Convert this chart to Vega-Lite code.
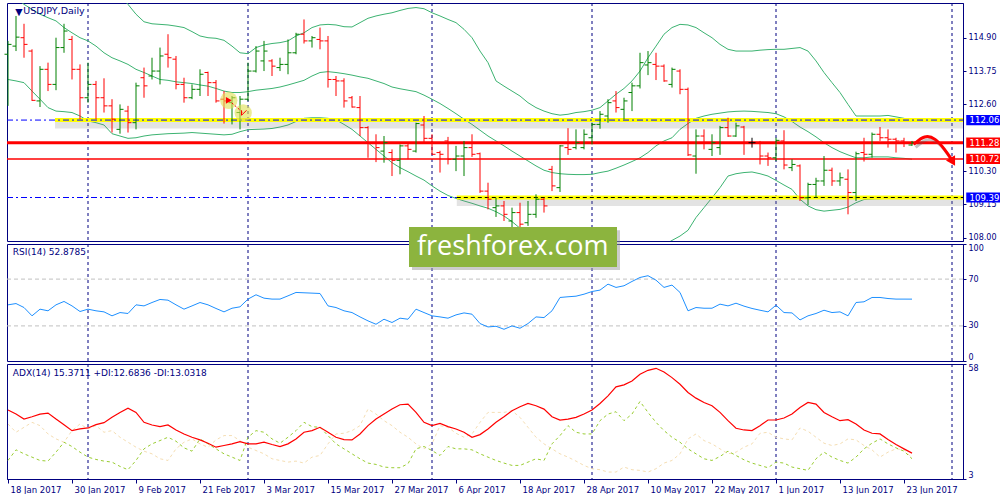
{
"$schema": "https://vega.github.io/schema/vega-lite/v6.json",
"background": "white",
"padding": {"left": 2, "top": 2, "right": 0, "bottom": 0},
"spacing": 3,
"bounds": "flush",
"config": {
 "view": {"stroke": "#000080", "strokeWidth": 1},
 "font": "DejaVu Sans",
 "axis": {"grid": false, "domainColor": "#000080", "tickColor": "#000080", "labelColor": "#000080", "labelFont": "DejaVu Sans", "labelFontSize": 8, "tickSize": 3, "labelPadding": 2}
},
"datasets": {
 "seps": [{"i": 10}, {"i": 30}, {"i": 53}, {"i": 73}, {"i": 96}, {"i": 118}],
 "bars": [
{"i":0,"o":114.33,"h":114.79,"l":112.55,"c":114.67,"bu":119.5,"bm":116.51,"bl":113.46,"rsi":48,"adx":35.96,"pdi":11.87,"mdi":29.31},
{"i":1,"o":114.61,"h":115.65,"l":114.44,"c":114.92,"bu":119.3,"bm":116.28,"bl":113.41,"rsi":49.1,"adx":34.06,"pdi":16.95,"mdi":25.35},
{"i":2,"o":114.90,"h":115.38,"l":114.21,"c":114.67,"bu":119.0,"bm":116.05,"bl":113.35,"rsi":45.7,"adx":31.68,"pdi":15.04,"mdi":27.72},
{"i":3,"o":114.44,"h":114.50,"l":112.72,"c":112.74,"bu":118.9,"bm":115.88,"bl":113.06,"rsi":38.6,"adx":32.79,"pdi":13.46,"mdi":30.1},
{"i":4,"o":112.72,"h":113.92,"l":112.51,"c":113.81,"bu":118.8,"bm":115.71,"bl":112.78,"rsi":44.3,"adx":34.06,"pdi":11.87,"mdi":28.52},
{"i":5,"o":113.81,"h":114.04,"l":113.06,"c":113.29,"bu":118.7,"bm":115.59,"bl":112.49,"rsi":42.9,"adx":34.54,"pdi":11.56,"mdi":24.55},
{"i":6,"o":113.29,"h":114.90,"l":113.09,"c":114.56,"bu":118.5,"bm":115.48,"bl":112.37,"rsi":48,"adx":31.68,"pdi":15.84,"mdi":22.18},
{"i":7,"o":114.56,"h":115.38,"l":114.38,"c":115.13,"bu":118.2,"bm":115.25,"bl":112.35,"rsi":50.9,"adx":28.99,"pdi":20.59,"mdi":20.59},
{"i":8,"o":114.84,"h":114.96,"l":113.46,"c":113.81,"bu":117.9,"bm":115.07,"bl":112.32,"rsi":47.1,"adx":26.14,"pdi":18.53,"mdi":26.14},
{"i":9,"o":113.81,"h":113.98,"l":112.09,"c":112.83,"bu":117.7,"bm":114.90,"bl":112.20,"rsi":42.3,"adx":26.93,"pdi":15.84,"mdi":29.31},
{"i":10,"o":112.83,"h":114.04,"l":112.66,"c":113.29,"bu":117.5,"bm":114.79,"bl":112.03,"rsi":44.3,"adx":27.41,"pdi":13.46,"mdi":26.93},
{"i":11,"o":113.29,"h":113.41,"l":112.09,"c":112.83,"bu":117.2,"bm":114.61,"bl":111.97,"rsi":42.9,"adx":28.99,"pdi":12.35,"mdi":28.52},
{"i":12,"o":112.83,"h":113.50,"l":112.32,"c":112.55,"bu":116.9,"bm":114.38,"bl":111.89,"rsi":42,"adx":29.94,"pdi":11.56,"mdi":25.35},
{"i":13,"o":112.55,"h":112.78,"l":111.63,"c":112.09,"bu":116.6,"bm":114.21,"bl":111.59,"rsi":38.6,"adx":32.48,"pdi":11.08,"mdi":26.14},
{"i":14,"o":111.74,"h":112.60,"l":111.59,"c":112.43,"bu":116.35,"bm":114.10,"bl":111.51,"rsi":41.4,"adx":34.85,"pdi":9.02,"mdi":22.97},
{"i":15,"o":112.37,"h":112.55,"l":111.63,"c":111.97,"bu":116.05,"bm":113.98,"bl":111.43,"rsi":40.6,"adx":36.91,"pdi":7.44,"mdi":20.59},
{"i":16,"o":111.97,"h":113.35,"l":111.74,"c":113.24,"bu":115.71,"bm":113.81,"bl":111.45,"rsi":48,"adx":34.85,"pdi":11.87,"mdi":18.21},
{"i":17,"o":113.52,"h":113.87,"l":112.83,"c":113.24,"bu":115.45,"bm":113.70,"bl":111.51,"rsi":47.1,"adx":30.1,"pdi":17.42,"mdi":16.31},
{"i":18,"o":113.58,"h":114.21,"l":113.46,"c":113.75,"bu":115.38,"bm":113.58,"bl":111.55,"rsi":50,"adx":28.83,"pdi":19.8,"mdi":15.04},
{"i":19,"o":113.75,"h":114.56,"l":113.29,"c":114.27,"bu":115.36,"bm":113.46,"bl":111.57,"rsi":52.6,"adx":28.04,"pdi":21.38,"mdi":12.67},
{"i":20,"o":114.33,"h":115.02,"l":113.87,"c":114.21,"bu":115.34,"bm":113.43,"bl":111.59,"rsi":52,"adx":28.83,"pdi":22.97,"mdi":11.87},
{"i":21,"o":114.16,"h":114.27,"l":113.12,"c":113.29,"bu":115.30,"bm":113.38,"bl":111.60,"rsi":48,"adx":26.45,"pdi":21.07,"mdi":17.42},
{"i":22,"o":113.29,"h":113.52,"l":112.66,"c":112.83,"bu":115.25,"bm":113.35,"bl":111.61,"rsi":44.3,"adx":24.55,"pdi":17.9,"mdi":20.59},
{"i":23,"o":112.83,"h":113.29,"l":112.78,"c":113.12,"bu":115.11,"bm":113.32,"bl":111.63,"rsi":47.1,"adx":22.97,"pdi":16.31,"mdi":22.18},
{"i":24,"o":113.12,"h":113.81,"l":112.89,"c":113.64,"bu":114.96,"bm":113.27,"bl":111.61,"rsi":50,"adx":21.7,"pdi":22.18,"mdi":19.8},
{"i":25,"o":113.70,"h":113.73,"l":112.89,"c":113.35,"bu":114.90,"bm":113.23,"bl":111.59,"rsi":48,"adx":20.12,"pdi":19.8,"mdi":18.21},
{"i":26,"o":113.35,"h":113.44,"l":112.66,"c":112.72,"bu":114.88,"bm":113.15,"bl":111.57,"rsi":44.9,"adx":18.21,"pdi":17.42,"mdi":21.7},
{"i":27,"o":112.78,"h":113.06,"l":111.94,"c":112.72,"bu":114.81,"bm":113.06,"bl":111.55,"rsi":42,"adx":19.01,"pdi":15.04,"mdi":23.76},
{"i":28,"o":112.66,"h":112.89,"l":111.91,"c":112.83,"bu":114.61,"bm":113.01,"bl":111.57,"rsi":45.1,"adx":19.8,"pdi":13.46,"mdi":23.76},
{"i":29,"o":112.32,"h":112.89,"l":111.74,"c":112.78,"bu":114.38,"bm":113.01,"bl":111.66,"rsi":46.3,"adx":20.91,"pdi":11.87,"mdi":21.38},
{"i":30,"o":112.78,"h":114.04,"l":112.72,"c":113.75,"bu":114.35,"bm":113.04,"bl":111.73,"rsi":52.9,"adx":19.8,"pdi":22.97,"mdi":18.21},
{"i":31,"o":113.75,"h":114.61,"l":113.70,"c":114.44,"bu":114.56,"bm":113.09,"bl":111.74,"rsi":56.6,"adx":19.8,"pdi":26.14,"mdi":16.63},
{"i":32,"o":114.10,"h":114.79,"l":113.75,"c":114.44,"bu":114.65,"bm":113.12,"bl":111.75,"rsi":53.7,"adx":20.59,"pdi":25.35,"mdi":15.04},
{"i":33,"o":114.10,"h":114.16,"l":113.58,"c":113.92,"bu":114.70,"bm":113.15,"bl":111.77,"rsi":52.9,"adx":19.48,"pdi":22.18,"mdi":12.67},
{"i":34,"o":113.87,"h":114.21,"l":113.75,"c":113.98,"bu":114.73,"bm":113.20,"bl":111.82,"rsi":52.9,"adx":18.53,"pdi":20.12,"mdi":11.87},
{"i":35,"o":113.98,"h":114.84,"l":113.64,"c":114.38,"bu":114.79,"bm":113.27,"bl":111.89,"rsi":55.7,"adx":19.8,"pdi":22.97,"mdi":11.08},
{"i":36,"o":114.38,"h":115.07,"l":114.33,"c":115.02,"bu":114.96,"bm":113.35,"bl":112.01,"rsi":58.6,"adx":22.18,"pdi":26.14,"mdi":11.56},
{"i":37,"o":115.02,"h":115.53,"l":114.70,"c":114.79,"bu":115.07,"bm":113.43,"bl":112.12,"rsi":58.3,"adx":25.35,"pdi":30.1,"mdi":10.61},
{"i":38,"o":114.79,"h":114.96,"l":114.56,"c":114.90,"bu":115.25,"bm":113.58,"bl":112.14,"rsi":58,"adx":26.14,"pdi":28.04,"mdi":13.46},
{"i":39,"o":114.84,"h":115.25,"l":114.50,"c":114.79,"bu":115.34,"bm":113.70,"bl":112.14,"rsi":57.7,"adx":27.72,"pdi":27.72,"mdi":14.25},
{"i":40,"o":114.79,"h":114.96,"l":113.18,"c":113.46,"bu":115.36,"bm":113.73,"bl":112.12,"rsi":47.1,"adx":25.35,"pdi":23.76,"mdi":19.8},
{"i":41,"o":113.46,"h":113.58,"l":112.89,"c":113.41,"bu":115.34,"bm":113.70,"bl":112.07,"rsi":45.7,"adx":22.97,"pdi":19.8,"mdi":24.55},
{"i":42,"o":113.41,"h":113.50,"l":112.49,"c":112.72,"bu":115.28,"bm":113.66,"bl":111.91,"rsi":42.9,"adx":21.86,"pdi":17.42,"mdi":24.87},
{"i":43,"o":112.83,"h":112.89,"l":112.49,"c":112.51,"bu":115.27,"bm":113.61,"bl":111.74,"rsi":41.4,"adx":21.7,"pdi":15.04,"mdi":26.14},
{"i":44,"o":112.49,"h":112.89,"l":111.51,"c":111.80,"bu":115.42,"bm":113.55,"bl":111.51,"rsi":37.7,"adx":24.55,"pdi":12.67,"mdi":28.52},
{"i":45,"o":111.80,"h":111.85,"l":110.76,"c":111.28,"bu":115.57,"bm":113.50,"bl":111.28,"rsi":34.3,"adx":28.52,"pdi":10.61,"mdi":36.44},
{"i":46,"o":111.28,"h":111.57,"l":110.61,"c":111.11,"bu":115.65,"bm":113.41,"bl":111.05,"rsi":31.4,"adx":31.68,"pdi":9.97,"mdi":34.06},
{"i":47,"o":110.99,"h":111.51,"l":110.59,"c":111.28,"bu":115.71,"bm":113.32,"bl":110.82,"rsi":35.7,"adx":34.06,"pdi":8.71,"mdi":30.89},
{"i":48,"o":110.94,"h":111.05,"l":110.13,"c":110.67,"bu":115.76,"bm":113.20,"bl":110.59,"rsi":32.9,"adx":36.44,"pdi":8.39,"mdi":28.52},
{"i":49,"o":110.67,"h":111.22,"l":110.19,"c":111.17,"bu":115.84,"bm":113.14,"bl":110.42,"rsi":36.6,"adx":38.5,"pdi":8.39,"mdi":25.35},
{"i":50,"o":111.17,"h":111.28,"l":110.71,"c":111.05,"bu":115.91,"bm":113.09,"bl":110.28,"rsi":35.7,"adx":38.82,"pdi":10.29,"mdi":22.97},
{"i":51,"o":110.99,"h":111.97,"l":110.94,"c":111.94,"bu":115.94,"bm":113.04,"bl":110.13,"rsi":44.3,"adx":34.85,"pdi":17.42,"mdi":19.8},
{"i":52,"o":111.89,"h":112.20,"l":111.25,"c":111.43,"bu":115.90,"bm":112.92,"bl":109.99,"rsi":41.4,"adx":30.1,"pdi":18.53,"mdi":17.42},
{"i":53,"o":111.43,"h":111.57,"l":110.86,"c":110.88,"bu":115.76,"bm":112.78,"bl":109.79,"rsi":38.6,"adx":28.52,"pdi":16.63,"mdi":19.8},
{"i":54,"o":110.94,"h":111.00,"l":110.25,"c":110.88,"bu":115.65,"bm":112.63,"bl":109.61,"rsi":37.7,"adx":29.62,"pdi":14.25,"mdi":28.52},
{"i":55,"o":111.34,"h":111.48,"l":110.53,"c":110.71,"bu":115.53,"bm":112.46,"bl":109.46,"rsi":36.6,"adx":28.04,"pdi":18.53,"mdi":27.72},
{"i":56,"o":110.71,"h":111.17,"l":110.30,"c":110.82,"bu":115.42,"bm":112.28,"bl":109.36,"rsi":39.4,"adx":26.93,"pdi":17.42,"mdi":24.87},
{"i":57,"o":110.82,"h":111.34,"l":110.13,"c":111.11,"bu":115.19,"bm":112.09,"bl":109.27,"rsi":41.1,"adx":25.35,"pdi":17.42,"mdi":22.97},
{"i":58,"o":111.11,"h":111.57,"l":110.79,"c":110.88,"bu":114.90,"bm":111.91,"bl":109.19,"rsi":40,"adx":22.97,"pdi":16.95,"mdi":24.55},
{"i":59,"o":110.90,"h":110.94,"l":109.55,"c":109.61,"bu":114.44,"bm":111.71,"bl":109.10,"rsi":32,"adx":24.24,"pdi":15.04,"mdi":30.1},
{"i":60,"o":109.61,"h":109.90,"l":108.98,"c":109.33,"bu":114.04,"bm":111.51,"bl":109.02,"rsi":29.1,"adx":26.93,"pdi":13.46,"mdi":34.85},
{"i":61,"o":109.04,"h":109.38,"l":108.72,"c":109.10,"bu":113.41,"bm":111.34,"bl":108.90,"rsi":29.7,"adx":30.1,"pdi":11.87,"mdi":34.85},
{"i":62,"o":109.10,"h":109.27,"l":108.58,"c":108.81,"bu":113.23,"bm":111.17,"bl":108.75,"rsi":27.1,"adx":32.79,"pdi":10.61,"mdi":34.85},
{"i":63,"o":108.58,"h":109.04,"l":108.35,"c":108.87,"bu":113.06,"bm":110.99,"bl":108.56,"rsi":30,"adx":35.65,"pdi":9.5,"mdi":35.65},
{"i":64,"o":108.87,"h":109.21,"l":108.35,"c":108.47,"bu":112.89,"bm":110.82,"bl":108.33,"rsi":28,"adx":37.55,"pdi":9.5,"mdi":32.48},
{"i":65,"o":108.52,"h":109.27,"l":108.41,"c":108.81,"bu":112.66,"bm":110.65,"bl":108.10,"rsi":32,"adx":39.13,"pdi":11.08,"mdi":27.72},
{"i":66,"o":108.81,"h":109.50,"l":108.69,"c":109.33,"bu":112.49,"bm":110.48,"bl":107.87,"rsi":37.7,"adx":38.02,"pdi":12.67,"mdi":22.97},
{"i":67,"o":109.33,"h":109.38,"l":108.87,"c":109.10,"bu":112.37,"bm":110.33,"bl":107.80,"rsi":37.1,"adx":36.44,"pdi":11.87,"mdi":19.8},
{"i":68,"o":110.36,"h":110.48,"l":109.61,"c":109.79,"bu":112.28,"bm":110.25,"bl":107.75,"rsi":42.9,"adx":32.79,"pdi":19.8,"mdi":17.42},
{"i":69,"o":109.73,"h":111.20,"l":109.58,"c":111.17,"bu":112.23,"bm":110.21,"bl":107.70,"rsi":54.3,"adx":31.21,"pdi":23.76,"mdi":15.04},
{"i":70,"o":111.11,"h":111.78,"l":110.86,"c":111.05,"bu":112.26,"bm":110.19,"bl":107.65,"rsi":54.9,"adx":31.68,"pdi":28.52,"mdi":13.46},
{"i":71,"o":111.11,"h":111.74,"l":111.05,"c":111.28,"bu":112.32,"bm":110.18,"bl":107.60,"rsi":55.4,"adx":32.48,"pdi":25.35,"mdi":11.56},
{"i":72,"o":111.11,"h":111.74,"l":111.05,"c":111.57,"bu":112.35,"bm":110.18,"bl":107.55,"rsi":57.1,"adx":34.06,"pdi":24.55,"mdi":9.5},
{"i":73,"o":111.45,"h":111.97,"l":111.22,"c":111.91,"bu":112.40,"bm":110.19,"bl":107.50,"rsi":59.4,"adx":35.96,"pdi":24.55,"mdi":7.91},
{"i":74,"o":111.91,"h":112.37,"l":111.76,"c":112.26,"bu":112.49,"bm":110.25,"bl":107.45,"rsi":60.6,"adx":39.13,"pdi":30.89,"mdi":7.44},
{"i":75,"o":112.20,"h":112.78,"l":111.97,"c":112.66,"bu":112.72,"bm":110.30,"bl":107.45,"rsi":65.7,"adx":42.78,"pdi":34.06,"mdi":6.33},
{"i":76,"o":112.72,"h":113.06,"l":112.32,"c":112.49,"bu":112.95,"bm":110.40,"bl":107.45,"rsi":62.9,"adx":47.06,"pdi":35.17,"mdi":6.33},
{"i":77,"o":112.43,"h":112.83,"l":112.09,"c":112.72,"bu":113.15,"bm":110.51,"bl":107.45,"rsi":64.3,"adx":48.01,"pdi":30.89,"mdi":8.71},
{"i":78,"o":113.01,"h":113.35,"l":112.37,"c":113.24,"bu":113.41,"bm":110.63,"bl":107.50,"rsi":68,"adx":49.91,"pdi":34.06,"mdi":7.44},
{"i":79,"o":113.24,"h":114.38,"l":113.15,"c":114.04,"bu":113.75,"bm":110.76,"bl":107.55,"rsi":71.4,"adx":53.08,"pdi":40.08,"mdi":7.12},
{"i":80,"o":113.96,"h":114.44,"l":113.61,"c":114.04,"bu":114.21,"bm":110.94,"bl":107.60,"rsi":72.9,"adx":54.98,"pdi":34.85,"mdi":6.33},
{"i":81,"o":113.98,"h":114.38,"l":113.44,"c":113.92,"bu":114.61,"bm":111.17,"bl":107.65,"rsi":69.1,"adx":55.93,"pdi":30.1,"mdi":7.91},
{"i":82,"o":113.92,"h":113.98,"l":113.38,"c":113.41,"bu":115.02,"bm":111.34,"bl":107.75,"rsi":62.9,"adx":54.19,"pdi":26.14,"mdi":10.61},
{"i":83,"o":113.29,"h":113.87,"l":113.18,"c":113.81,"bu":115.25,"bm":111.45,"bl":107.91,"rsi":64.9,"adx":51.49,"pdi":22.97,"mdi":11.87},
{"i":84,"o":113.75,"h":113.81,"l":112.95,"c":113.12,"bu":115.36,"bm":111.74,"bl":108.06,"rsi":58.6,"adx":48.32,"pdi":20.59,"mdi":15.04},
{"i":85,"o":113.12,"h":113.18,"l":110.82,"c":110.86,"bu":115.34,"bm":111.94,"bl":108.26,"rsi":42.9,"adx":44.36,"pdi":17.42,"mdi":22.18},
{"i":86,"o":110.82,"h":111.74,"l":110.21,"c":111.51,"bu":115.25,"bm":112.12,"bl":108.70,"rsi":45.7,"adx":41.67,"pdi":15.04,"mdi":24.55},
{"i":87,"o":111.51,"h":111.74,"l":111.05,"c":111.28,"bu":115.07,"bm":112.20,"bl":109.04,"rsi":45.1,"adx":39.61,"pdi":12.67,"mdi":21.38},
{"i":88,"o":111.05,"h":111.57,"l":110.82,"c":111.28,"bu":114.90,"bm":112.26,"bl":109.38,"rsi":45.1,"adx":38.02,"pdi":11.87,"mdi":19.8},
{"i":89,"o":111.11,"h":111.86,"l":110.86,"c":111.80,"bu":114.67,"bm":112.30,"bl":109.73,"rsi":48.6,"adx":34.85,"pdi":13.78,"mdi":17.42},
{"i":90,"o":111.80,"h":112.14,"l":111.48,"c":111.51,"bu":114.50,"bm":112.34,"bl":110.13,"rsi":47.1,"adx":30.89,"pdi":16.31,"mdi":15.04},
{"i":91,"o":111.51,"h":111.97,"l":111.48,"c":111.86,"bu":114.44,"bm":112.36,"bl":110.21,"rsi":49.4,"adx":27.25,"pdi":14.25,"mdi":15.84},
{"i":92,"o":111.82,"h":111.86,"l":110.86,"c":111.28,"bu":114.44,"bm":112.37,"bl":110.25,"rsi":46.9,"adx":26.45,"pdi":12.19,"mdi":18.21},
{"i":93,"o":111.28,"h":111.45,"l":111.11,"c":111.28,"bu":114.44,"bm":112.36,"bl":110.27,"rsi":44.9,"adx":26.14,"pdi":10.61,"mdi":19.8},
{"i":94,"o":111.28,"h":111.34,"l":110.53,"c":110.82,"bu":114.47,"bm":112.34,"bl":110.21,"rsi":43.4,"adx":28.52,"pdi":9.5,"mdi":24.87},
{"i":95,"o":110.82,"h":110.94,"l":110.48,"c":110.76,"bu":114.49,"bm":112.32,"bl":110.13,"rsi":42,"adx":31.21,"pdi":8.39,"mdi":25.35},
{"i":96,"o":110.76,"h":111.45,"l":110.65,"c":111.36,"bu":114.50,"bm":112.28,"bl":109.98,"rsi":47.7,"adx":31.21,"pdi":11.08,"mdi":22.97},
{"i":97,"o":111.34,"h":111.71,"l":110.36,"c":110.51,"bu":114.50,"bm":112.17,"bl":109.82,"rsi":41.4,"adx":32.16,"pdi":10.61,"mdi":22.18},
{"i":98,"o":110.42,"h":110.71,"l":110.30,"c":110.53,"bu":114.53,"bm":112.01,"bl":109.67,"rsi":41.1,"adx":34.06,"pdi":8.71,"mdi":21.7},
{"i":99,"o":110.48,"h":110.53,"l":109.27,"c":109.38,"bu":114.56,"bm":111.82,"bl":109.33,"rsi":35.1,"adx":37.23,"pdi":7.91,"mdi":27.41},
{"i":100,"o":109.38,"h":109.90,"l":109.13,"c":109.84,"bu":114.44,"bm":111.66,"bl":109.10,"rsi":38.6,"adx":39.61,"pdi":7.12,"mdi":25.82},
{"i":101,"o":109.84,"h":110.07,"l":109.38,"c":109.96,"bu":114.10,"bm":111.48,"bl":108.97,"rsi":40.6,"adx":38.82,"pdi":12.67,"mdi":22.97},
{"i":102,"o":109.96,"h":110.82,"l":109.79,"c":110.33,"bu":113.70,"bm":111.28,"bl":108.92,"rsi":43.4,"adx":34.85,"pdi":15.84,"mdi":20.12},
{"i":103,"o":110.33,"h":110.42,"l":109.79,"c":109.96,"bu":113.35,"bm":111.11,"bl":108.95,"rsi":41.4,"adx":32.79,"pdi":13.46,"mdi":19.01},
{"i":104,"o":109.96,"h":110.25,"l":109.79,"c":110.07,"bu":113.01,"bm":110.97,"bl":108.98,"rsi":42,"adx":30.89,"pdi":11.87,"mdi":19.8},
{"i":105,"o":110.02,"h":110.36,"l":108.81,"c":109.56,"bu":112.60,"bm":110.86,"bl":109.06,"rsi":38.6,"adx":31.37,"pdi":10.61,"mdi":22.18},
{"i":106,"o":109.56,"h":110.97,"l":109.27,"c":110.90,"bu":112.20,"bm":110.76,"bl":109.21,"rsi":50,"adx":29.31,"pdi":13.46,"mdi":21.7},
{"i":107,"o":110.94,"h":111.45,"l":110.63,"c":110.88,"bu":112.20,"bm":110.76,"bl":109.32,"rsi":50.6,"adx":26.45,"pdi":17.42,"mdi":19.01},
{"i":108,"o":110.88,"h":111.63,"l":110.76,"c":111.57,"bu":112.20,"bm":110.79,"bl":109.34,"rsi":54.3,"adx":24.87,"pdi":20.12,"mdi":16.95},
{"i":109,"o":111.57,"h":111.82,"l":111.34,"c":111.45,"bu":112.20,"bm":110.79,"bl":109.35,"rsi":54.3,"adx":24.55,"pdi":22.18,"mdi":13.46},
{"i":110,"o":111.45,"h":111.74,"l":111.11,"c":111.40,"bu":112.22,"bm":110.79,"bl":109.36,"rsi":53.4,"adx":21.86,"pdi":19.8,"mdi":15.84},
{"i":111,"o":111.40,"h":111.45,"l":110.94,"c":111.34,"bu":112.17,"bm":110.76,"bl":109.38,"rsi":52.9,"adx":19.48,"pdi":17.9,"mdi":17.42},
{"i":112,"o":111.34,"h":111.45,"l":111.13,"c":111.28,"bu":112.12,"bm":110.74,"bl":109.41,"rsi":52.9,"adx":17.42,"pdi":16.31,"mdi":16.95},
{"i":113,"o":111.20,"h":111.34,"l":111.17,"c":111.28,"bu":112.05,"bm":110.71,"bl":109.41,"rsi":52.88,"adx":15.37,"pdi":12.68,"mdi":13.03}
 ]
},
"vconcat": [
 {
  "width": 956, "height": 238,
  "resolve": {"axis": {"x": "independent", "y": "independent"}},
  "layer": [
   {"data": {"name": "seps"}, "mark": {"type": "rule", "color": "#000080", "strokeDash": [3, 3], "strokeWidth": 1},
    "encoding": {"x": {"field": "i", "type": "quantitative", "scale": {"domain": [-0.125, 119.375], "nice": false, "zero": false}, "axis": null}}},
   {"data": {"name": "bars"}, "transform": [{"fold": ["bu", "bm", "bl"], "as": ["band", "val"]}],
    "mark": {"type": "line", "color": "#3cb371", "strokeWidth": 1, "clip": true},
    "encoding": {
     "x": {"field": "i", "type": "quantitative", "scale": {"domain": [-0.125, 119.375], "nice": false, "zero": false}, "axis": null},
     "y": {"field": "val", "type": "quantitative", "scale": {"domain": [107.89, 116.097], "nice": false, "zero": false},
           "axis": {"orient": "right", "title": null, "values": [108, 109.15, 110.3, 112.6, 113.75, 114.9], "format": ".2f"}},
     "detail": {"field": "band", "type": "nominal"}}},
   {"data": {"values": [{"p": 112.06, "a": 5.875, "b": 119.375}, {"p": 109.39, "a": 56.1, "b": 119.375}]},
    "mark": {"type": "rule", "color": "#808080", "opacity": 0.22, "strokeWidth": 7, "yOffset": 5},
    "encoding": {"x": {"field": "a", "type": "quantitative", "scale": {"domain": [-0.125, 119.375], "nice": false, "zero": false}, "axis": null}, "x2": {"field": "b"},
     "y": {"field": "p", "type": "quantitative", "scale": {"domain": [107.89, 116.097], "nice": false, "zero": false}, "axis": null}}},
   {"data": {"values": [{"p": 112.06, "a": 5.875, "b": 119.375}, {"p": 109.39, "a": 56.1, "b": 119.375}]},
    "mark": {"type": "rule", "color": "#ffff00", "strokeWidth": 4},
    "encoding": {"x": {"field": "a", "type": "quantitative", "scale": {"domain": [-0.125, 119.375], "nice": false, "zero": false}, "axis": null}, "x2": {"field": "b"},
     "y": {"field": "p", "type": "quantitative", "scale": {"domain": [107.89, 116.097], "nice": false, "zero": false}, "axis": null}}},
   {"data": {"values": [{"p": 112.06, "a": -0.125, "b": 119.375}, {"p": 109.39, "a": -0.125, "b": 56.1}]},
    "mark": {"type": "rule", "color": "#0000ff", "strokeWidth": 1, "strokeDash": [6, 3, 2, 3]},
    "encoding": {"x": {"field": "a", "type": "quantitative", "scale": {"domain": [-0.125, 119.375], "nice": false, "zero": false}, "axis": null}, "x2": {"field": "b"},
     "y": {"field": "p", "type": "quantitative", "scale": {"domain": [107.89, 116.097], "nice": false, "zero": false}, "axis": null}}},
   {"data": {"values": [{"p": 109.39, "a": 56.1, "b": 119.375}]},
    "mark": {"type": "rule", "color": "#000000", "strokeWidth": 1, "strokeDash": [4, 3]},
    "encoding": {"x": {"field": "a", "type": "quantitative", "scale": {"domain": [-0.125, 119.375], "nice": false, "zero": false}, "axis": null}, "x2": {"field": "b"},
     "y": {"field": "p", "type": "quantitative", "scale": {"domain": [107.89, 116.097], "nice": false, "zero": false}, "axis": null}}},
   {"data": {"values": [{"p": 111.28}]},
    "mark": {"type": "rule", "color": "#ff0000", "strokeWidth": 3},
    "encoding": {"y": {"field": "p", "type": "quantitative", "scale": {"domain": [107.89, 116.097], "nice": false, "zero": false}, "axis": null}}},
   {"data": {"values": [{"p": 110.72}]},
    "mark": {"type": "rule", "color": "#ff0000", "strokeWidth": 1.5},
    "encoding": {"y": {"field": "p", "type": "quantitative", "scale": {"domain": [107.89, 116.097], "nice": false, "zero": false}, "axis": null}}},
   {"data": {"name": "bars"}, "mark": {"type": "rule", "strokeWidth": 1},
    "encoding": {"x": {"field": "i", "type": "quantitative", "scale": {"domain": [-0.125, 119.375], "nice": false, "zero": false}, "axis": null},
     "y": {"field": "l", "type": "quantitative", "scale": {"domain": [107.89, 116.097], "nice": false, "zero": false}, "axis": null}, "y2": {"field": "h"},
     "color": {"condition": [{"test": "datum.c > datum.o", "value": "#008000"}, {"test": "datum.c < datum.o", "value": "#ff0000"}], "value": "#000000"}}},
   {"data": {"name": "bars"}, "mark": {"type": "point", "shape": "M-1,0L0,0", "filled": false, "size": 49, "strokeWidth": 1, "opacity": 1},
    "encoding": {"x": {"field": "i", "type": "quantitative", "scale": {"domain": [-0.125, 119.375], "nice": false, "zero": false}, "axis": null},
     "y": {"field": "o", "type": "quantitative", "scale": {"domain": [107.89, 116.097], "nice": false, "zero": false}, "axis": null},
     "color": {"condition": [{"test": "datum.c > datum.o", "value": "#008000"}, {"test": "datum.c < datum.o", "value": "#ff0000"}], "value": "#000000"}}},
   {"data": {"name": "bars"}, "mark": {"type": "point", "shape": "M0,0L1,0", "filled": false, "size": 49, "strokeWidth": 1, "opacity": 1},
    "encoding": {"x": {"field": "i", "type": "quantitative", "scale": {"domain": [-0.125, 119.375], "nice": false, "zero": false}, "axis": null},
     "y": {"field": "c", "type": "quantitative", "scale": {"domain": [107.89, 116.097], "nice": false, "zero": false}, "axis": null},
     "color": {"condition": [{"test": "datum.c > datum.o", "value": "#008000"}, {"test": "datum.c < datum.o", "value": "#ff0000"}], "value": "#000000"}}},
   {"data": {"values": [{"i": 27.6, "p": 112.74}, {"i": 29.4, "p": 112.31}]},
    "mark": {"type": "point", "shape": "circle", "filled": true, "size": 300, "color": "#e0e050", "opacity": 0.6},
    "encoding": {"x": {"field": "i", "type": "quantitative", "scale": {"domain": [-0.125, 119.375], "nice": false, "zero": false}, "axis": null},
     "y": {"field": "p", "type": "quantitative", "scale": {"domain": [107.89, 116.097], "nice": false, "zero": false}, "axis": null}}},
   {"data": {"values": [{"a": 27.6, "pa": 112.74, "b": 29.4, "pb": 112.31}]},
    "mark": {"type": "rule", "color": "#ff0000", "strokeWidth": 1, "strokeDash": [2, 2]},
    "encoding": {"x": {"field": "a", "type": "quantitative", "scale": {"domain": [-0.125, 119.375], "nice": false, "zero": false}, "axis": null}, "x2": {"field": "b"},
     "y": {"field": "pa", "type": "quantitative", "scale": {"domain": [107.89, 116.097], "nice": false, "zero": false}, "axis": null}, "y2": {"field": "pb"}}},
   {"data": {"values": [{"i": 27.6, "p": 112.74}]},
    "mark": {"type": "point", "shape": "triangle-right", "filled": true, "size": 45, "color": "#ff0000", "opacity": 1},
    "encoding": {"x": {"field": "i", "type": "quantitative", "scale": {"domain": [-0.125, 119.375], "nice": false, "zero": false}, "axis": null},
     "y": {"field": "p", "type": "quantitative", "scale": {"domain": [107.89, 116.097], "nice": false, "zero": false}, "axis": null}}},
   {"data": {"values": [{"i": 29.5, "p": 112.31}]},
    "mark": {"type": "point", "shape": "M-1,-1L-1,1L1,-1", "filled": false, "size": 25, "strokeWidth": 1, "color": "#ff0000", "opacity": 1},
    "encoding": {"x": {"field": "i", "type": "quantitative", "scale": {"domain": [-0.125, 119.375], "nice": false, "zero": false}, "axis": null},
     "y": {"field": "p", "type": "quantitative", "scale": {"domain": [107.89, 116.097], "nice": false, "zero": false}, "axis": null}}},
   {"data": {"values": [{"k": 0, "i": 113.2, "p": 111.22}, {"k": 1, "i": 114.6, "p": 111.55}, {"k": 2, "i": 115.9, "p": 111.44}, {"k": 3, "i": 117.1, "p": 111.05}, {"k": 4, "i": 117.9, "p": 110.72}]},
    "mark": {"type": "line", "color": "#555555", "opacity": 0.35, "strokeWidth": 3, "interpolate": "basis", "xOffset": 2, "yOffset": 3},
    "encoding": {"x": {"field": "i", "type": "quantitative", "scale": {"domain": [-0.125, 119.375], "nice": false, "zero": false}, "axis": null},
     "y": {"field": "p", "type": "quantitative", "scale": {"domain": [107.89, 116.097], "nice": false, "zero": false}, "axis": null}, "order": {"field": "k"}}},
   {"data": {"values": [{"k": 0, "i": 113.2, "p": 111.22}, {"k": 1, "i": 114.6, "p": 111.55}, {"k": 2, "i": 115.9, "p": 111.44}, {"k": 3, "i": 117.1, "p": 111.05}, {"k": 4, "i": 117.9, "p": 110.72}]},
    "mark": {"type": "line", "color": "#ff0000", "strokeWidth": 3, "interpolate": "basis"},
    "encoding": {"x": {"field": "i", "type": "quantitative", "scale": {"domain": [-0.125, 119.375], "nice": false, "zero": false}, "axis": null},
     "y": {"field": "p", "type": "quantitative", "scale": {"domain": [107.89, 116.097], "nice": false, "zero": false}, "axis": null}, "order": {"field": "k"}}},
   {"data": {"values": [{"i": 118.1, "p": 110.62}]},
    "mark": {"type": "point", "shape": "triangle-down", "filled": true, "size": 110, "color": "#ff0000", "opacity": 1, "angle": -30},
    "encoding": {"x": {"field": "i", "type": "quantitative", "scale": {"domain": [-0.125, 119.375], "nice": false, "zero": false}, "axis": null},
     "y": {"field": "p", "type": "quantitative", "scale": {"domain": [107.89, 116.097], "nice": false, "zero": false}, "axis": null}}},
   {"data": {"values": [{"i": 0.9, "p": 115.8, "t": "▼"}, {"i": 1.9, "p": 115.82, "t": "USDJPY,Daily"}]},
    "mark": {"type": "text", "align": "left", "baseline": "middle", "fontSize": 9.5, "font": "DejaVu Sans", "color": "#000080"},
    "encoding": {"x": {"field": "i", "type": "quantitative", "scale": {"domain": [-0.125, 119.375], "nice": false, "zero": false}, "axis": null},
     "y": {"field": "p", "type": "quantitative", "scale": {"domain": [107.89, 116.097], "nice": false, "zero": false}, "axis": null}, "text": {"field": "t"}}},
   {"data": {"values": [{"p": 112.06, "t": "112.06", "k": "blue"}, {"p": 111.28, "t": "111.28", "k": "red"}, {"p": 110.72, "t": "110.72", "k": "red"}, {"p": 109.39, "t": "109.39", "k": "blue"}]},
    "mark": {"type": "point", "shape": "M-1,-0.28L1,-0.28L1,0.28L-1,0.28Z", "filled": true, "size": 1330, "strokeWidth": 0, "opacity": 1},
    "encoding": {"x": {"datum": 122.06, "type": "quantitative", "scale": {"domain": [-0.125, 119.375], "nice": false, "zero": false}, "axis": null},
     "y": {"field": "p", "type": "quantitative", "scale": {"domain": [107.89, 116.097], "nice": false, "zero": false}, "axis": null},
     "color": {"condition": {"test": "datum.k == 'red'", "value": "#ff0000"}, "value": "#0000ff"}}},
   {"data": {"values": [{"p": 112.06, "t": "112.06"}, {"p": 111.28, "t": "111.28"}, {"p": 110.72, "t": "110.72"}, {"p": 109.39, "t": "109.39"}]},
    "mark": {"type": "text", "align": "center", "baseline": "middle", "fontSize": 8.5, "font": "DejaVu Sans", "color": "#ffffff"},
    "encoding": {"x": {"datum": 122.06, "type": "quantitative", "scale": {"domain": [-0.125, 119.375], "nice": false, "zero": false}, "axis": null},
     "y": {"field": "p", "type": "quantitative", "scale": {"domain": [107.89, 116.097], "nice": false, "zero": false}, "axis": null}, "text": {"field": "t"}}}
  ]
 },
 {
  "width": 956, "height": 117,
  "resolve": {"axis": {"x": "independent", "y": "independent"}},
  "layer": [
   {"data": {"name": "seps"}, "mark": {"type": "rule", "color": "#000080", "strokeDash": [3, 3], "strokeWidth": 1},
    "encoding": {"x": {"field": "i", "type": "quantitative", "scale": {"domain": [-0.125, 119.375], "nice": false, "zero": false}, "axis": null}}},
   {"data": {"values": [{"v": 30}, {"v": 70}]},
    "mark": {"type": "rule", "color": "#c0c0c0", "strokeDash": [4, 3], "strokeWidth": 1},
    "encoding": {"y": {"field": "v", "type": "quantitative", "scale": {"domain": [0, 100], "nice": false, "zero": false}, "axis": null}}},
   {"data": {"name": "bars"}, "mark": {"type": "line", "color": "#1e90ff", "strokeWidth": 1, "clip": true},
    "encoding": {"x": {"field": "i", "type": "quantitative", "scale": {"domain": [-0.125, 119.375], "nice": false, "zero": false}, "axis": null},
     "y": {"field": "rsi", "type": "quantitative", "scale": {"domain": [0, 100], "nice": false, "zero": false},
           "axis": {"orient": "right", "title": null, "values": [0, 30, 70, 100], "labelFlush": true}}}},
   {"data": {"values": [{"i": 0.6, "v": 93, "t": "RSI(14) 52.8785"}]},
    "mark": {"type": "text", "align": "left", "baseline": "middle", "fontSize": 9, "font": "DejaVu Sans", "color": "#000080"},
    "encoding": {"x": {"field": "i", "type": "quantitative", "scale": {"domain": [-0.125, 119.375], "nice": false, "zero": false}, "axis": null},
     "y": {"field": "v", "type": "quantitative", "scale": {"domain": [0, 100], "nice": false, "zero": false}, "axis": null}, "text": {"field": "t"}}}
  ]
 },
 {
  "width": 956, "height": 115,
  "resolve": {"axis": {"x": "independent", "y": "independent"}},
  "layer": [
   {"data": {"name": "seps"}, "mark": {"type": "rule", "color": "#000080", "strokeDash": [3, 3], "strokeWidth": 1},
    "encoding": {"x": {"field": "i", "type": "quantitative", "scale": {"domain": [-0.125, 119.375], "nice": false, "zero": false}, "axis": null}}},
   {"data": {"name": "bars"}, "mark": {"type": "line", "color": "#f5deb3", "strokeWidth": 1, "strokeDash": [3, 3], "clip": true},
    "encoding": {"x": {"field": "i", "type": "quantitative", "scale": {"domain": [-0.125, 119.375], "nice": false, "zero": false}, "axis": null},
     "y": {"field": "mdi", "type": "quantitative", "scale": {"domain": [3, 58], "nice": false, "zero": false}, "axis": null}}},
   {"data": {"name": "bars"}, "mark": {"type": "line", "color": "#9acd32", "strokeWidth": 1, "strokeDash": [3, 3], "clip": true},
    "encoding": {"x": {"field": "i", "type": "quantitative", "scale": {"domain": [-0.125, 119.375], "nice": false, "zero": false}, "axis": null},
     "y": {"field": "pdi", "type": "quantitative", "scale": {"domain": [3, 58], "nice": false, "zero": false}, "axis": null}}},
   {"data": {"name": "bars"}, "mark": {"type": "line", "color": "#ff0000", "strokeWidth": 1.2, "clip": true},
    "encoding": {"x": {"field": "i", "type": "quantitative", "scale": {"domain": [-0.125, 119.375], "nice": false, "zero": false},
           "axis": {"orient": "bottom", "title": null, "values": [0, 8, 16, 24, 32, 40, 48, 56, 64, 72, 80, 88, 96, 104, 112],
                    "labelExpr": "['18 Jan 2017','30 Jan 2017','9 Feb 2017','21 Feb 2017','3 Mar 2017','15 Mar 2017','27 Mar 2017','6 Apr 2017','18 Apr 2017','28 Apr 2017','10 May 2017','22 May 2017','1 Jun 2017','13 Jun 2017','23 Jun 2017'][round(datum.value/8)]",
                    "labelAlign": "left", "labelOffset": 2, "labelFlush": false, "labelOverlap": false, "labelBound": false, "tickSize": 4, "labelPadding": 2, "labelFontSize": 8.5}},
     "y": {"field": "adx", "type": "quantitative", "scale": {"domain": [3, 58], "nice": false, "zero": false},
           "axis": {"orient": "right", "title": null, "values": [3, 58], "labelFlush": true}}}},
   {"data": {"values": [{"i": 0.6, "v": 53.7, "t": "ADX(14) 15.3711 +DI:12.6836 -DI:13.0318"}]},
    "mark": {"type": "text", "align": "left", "baseline": "middle", "fontSize": 9, "font": "DejaVu Sans", "color": "#000080"},
    "encoding": {"x": {"field": "i", "type": "quantitative", "scale": {"domain": [-0.125, 119.375], "nice": false, "zero": false}, "axis": null},
     "y": {"field": "v", "type": "quantitative", "scale": {"domain": [3, 58], "nice": false, "zero": false}, "axis": null}, "text": {"field": "t"}}},
   {"data": {"values": [{"a": 50.5, "b": 76.5, "top": 122.0, "bot": 103.0}]},
    "mark": {"type": "rect", "color": "#9a9a9a", "opacity": 0.5},
    "encoding": {"x": {"field": "a", "type": "quantitative", "scale": {"domain": [-0.125, 119.375], "nice": false, "zero": false}, "axis": null}, "x2": {"field": "b"},
     "y": {"field": "top", "type": "quantitative", "scale": {"domain": [3, 58], "nice": false, "zero": false}, "axis": null}, "y2": {"field": "bot"}}},
   {"data": {"values": [{"a": 50.125, "b": 76.125, "top": 123.5, "bot": 104.4}]},
    "mark": {"type": "rect", "color": "#8cb43e", "opacity": 1},
    "encoding": {"x": {"field": "a", "type": "quantitative", "scale": {"domain": [-0.125, 119.375], "nice": false, "zero": false}, "axis": null}, "x2": {"field": "b"},
     "y": {"field": "top", "type": "quantitative", "scale": {"domain": [3, 58], "nice": false, "zero": false}, "axis": null}, "y2": {"field": "bot"}}},
   {"data": {"values": [{"i": 63.1, "v": 114.0, "t": "freshforex.com"}]},
    "mark": {"type": "text", "align": "center", "baseline": "middle", "fontSize": 27, "font": "Open Sans", "color": "#ffffff"},
    "encoding": {"x": {"field": "i", "type": "quantitative", "scale": {"domain": [-0.125, 119.375], "nice": false, "zero": false}, "axis": null},
     "y": {"field": "v", "type": "quantitative", "scale": {"domain": [3, 58], "nice": false, "zero": false}, "axis": null}, "text": {"field": "t"}}}
  ]
 }
]
}
